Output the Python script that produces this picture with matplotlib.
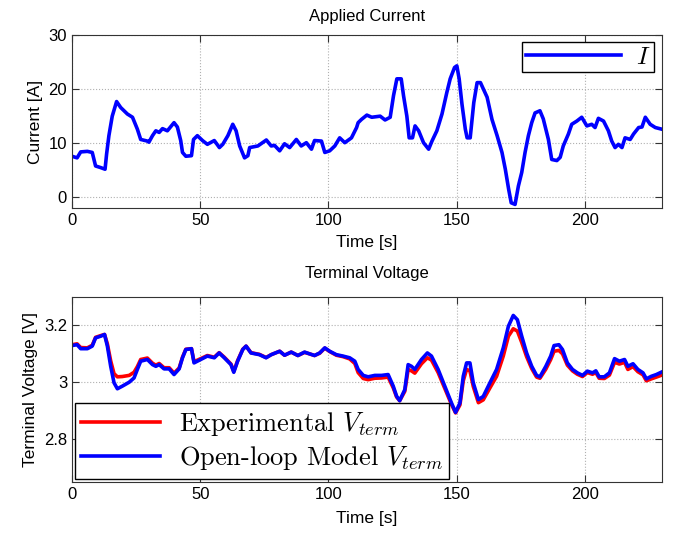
import matplotlib
matplotlib.use("Agg")
import matplotlib.pyplot as plt
import numpy as np

# applied current
t_cur = [0, 2, 3.4, 6, 7.9, 9.2, 11.2, 12.9, 13.5, 14.4, 15.7, 17.4, 19, 21.6, 23.6,
         25.5, 26.8, 29.4, 30, 31.4, 32.7, 34, 35.3, 37.2, 39.8, 41.1, 42.4, 43.1, 44.4,
         46.6, 47.4, 48.9, 50.9, 52.8, 55.5, 57.5, 58.8, 60.8, 62.7, 64, 65.4, 67.3, 68.6,
         69.3, 72.5, 75.8, 77.7, 79, 81, 82.9, 84.9, 87.5, 89.4, 91.4, 93.4, 94.6, 97.3,
         98.6, 100.5, 102.5, 104.4, 106.4, 109, 111, 111.6, 112.9, 115, 116.9, 120.2,
         122.1, 124.1, 125.4, 126.7, 128.4, 129.3, 130.6, 131.5, 132.8, 133.8, 135.2,
         137.1, 139.1, 140.4, 142.3, 144.3, 146.2, 147.5, 149.2, 150.1, 151, 152.1, 153.4,
         154.1, 155.3, 156.7, 158, 159.3, 161.9, 163.8, 165.8, 167.7, 169, 170.3, 171.3,
         172.8, 174.1, 175.4, 176.7, 178, 179.3, 180.6, 182.5, 183.8, 185.8, 187.1, 189.1,
         190.4, 191.6, 193.6, 194.9, 196.9, 198.8, 200.8, 202.7, 204, 205.3, 207.3, 209.2,
         210.5, 211.8, 213.1, 214.5, 215.7, 217.7, 219, 221, 222.3, 223.6, 225.5, 227.5, 230]
current = [7.6, 7.3, 8.4, 8.5, 8.3, 5.8, 5.5, 5.2, 8, 11.4, 15, 17.7, 16.6, 15.4, 14.8,
           12.6, 10.7, 10.4, 10.2, 11.4, 12.3, 12, 12.7, 12.3, 13.8, 13, 10.5, 8.3, 7.6,
           7.7, 10.7, 11.4, 10.5, 9.8, 10.5, 9.2, 9.8, 11.4, 13.5, 12.3, 9.5, 7.3, 7.7,
           9.2, 9.5, 10.6, 9.5, 9.6, 8.6, 9.9, 9.2, 10.7, 9.5, 10.1, 8.9, 10.5, 10.4,
           8.3, 8.6, 9.5, 11, 10.1, 11, 12.9, 13.8, 14.4, 15.2, 14.8, 15,
           14.3, 14.8, 18.8, 21.9, 21.9, 18.8, 15, 11, 11, 13.2, 12.3,
           10.1, 8.9, 10.4, 12.3, 15.4, 19.4, 21.9, 24, 24.3, 21.9, 17.2, 12.6,
           11, 11, 17.5, 21.2, 21.2, 18.5, 14.4, 11.4, 8.3, 5.2, 1.5, -1,
           -1.3, 2.1, 4.6, 8.3, 11.4, 13.8, 15.6, 16, 14.5, 10.7, 7, 6.8,
           7.4, 9.5, 11.7, 13.5, 14.1, 14.8, 13.2, 13.5, 12.9, 14.6, 14.1, 12.3,
           10.4, 9.2, 9.8, 9.2, 11, 10.7, 11.7, 12.9, 13, 14.8, 13.5, 12.9, 12.6]

# terminal voltage, model (blue) and experiment (red)
t_volt = [0, 2, 3.4, 6, 7.9, 9.2, 11.2, 12.7, 13.8, 15.1, 16.4, 17.7, 19.6, 22.3, 24.2,
          25.5, 26.8, 29.4, 31.4, 32.7, 34, 35.9, 37.9, 39.8, 41.8, 43.1, 44.4, 46.6,
          47.6, 50.2, 52.8, 55.5, 57.4, 59.4, 62, 63.1, 64.6, 66.6, 67.9, 69.8, 73.1,
          75.7, 77.7, 81, 82.9, 85.5, 88.1, 90.7, 92.6, 94.6, 96.6, 98.6, 100.5, 103.1,
          105.7, 108.3, 110.3, 111.6, 113.6, 115.5, 118.1, 120.7, 123.3, 125.3, 126.6,
          127.8, 129.8, 131.1, 132.4, 133.7, 136.3, 138.6, 140.2, 142.8, 145.4, 148,
          149.6, 151.3, 152.6, 153.9, 155.2, 156.5, 158.5, 160.4, 163, 165.6, 168.2,
          170.2, 172.1, 173.7, 175.4, 177.3, 179.3, 181.2, 182.5, 184.8, 186.7, 188,
          189.9, 191.3, 193.2, 195.2, 197.1, 199.1, 201, 203, 204.3, 205.6, 207.6, 209.6,
          211.6, 213.5, 215.5, 216.8, 218.8, 220.7, 222.7, 224, 226, 227.9, 230]
v_model = [3.129, 3.132, 3.118, 3.118, 3.127, 3.156, 3.162, 3.168, 3.127, 3.056, 2.998,
           2.977, 2.986, 3.0, 3.015, 3.045, 3.074, 3.08, 3.062, 3.056, 3.062, 3.047,
           3.047, 3.027, 3.047, 3.086, 3.115, 3.118, 3.068, 3.08, 3.092, 3.086, 3.103,
           3.086, 3.062, 3.035, 3.074, 3.115, 3.127, 3.103, 3.097, 3.086, 3.097, 3.109,
           3.095, 3.106, 3.094, 3.106, 3.1, 3.094, 3.103, 3.121, 3.109, 3.097, 3.092,
           3.086, 3.074, 3.045, 3.024, 3.019, 3.024, 3.024, 3.027, 2.986, 2.951, 2.935,
           2.974, 3.062, 3.056, 3.045, 3.08, 3.103, 3.092, 3.045, 2.986, 2.927, 2.894,
           2.927, 3.021, 3.068, 3.068, 2.998, 2.939, 2.95, 2.998, 3.045, 3.121, 3.197,
           3.235, 3.22, 3.162, 3.103, 3.056, 3.024, 3.019, 3.056, 3.092, 3.129, 3.132,
           3.115, 3.068, 3.045, 3.033, 3.024, 3.039, 3.033, 3.04, 3.019, 3.019, 3.033,
           3.083, 3.074, 3.08, 3.056, 3.065, 3.045, 3.033, 3.012, 3.021, 3.027, 3.036]
v_exp = [3.132, 3.135, 3.122, 3.121, 3.13, 3.158, 3.164, 3.168, 3.135, 3.075, 3.03,
         3.019, 3.02, 3.024, 3.035, 3.055, 3.08, 3.085, 3.067, 3.06, 3.066, 3.051,
         3.051, 3.032, 3.05, 3.088, 3.116, 3.118, 3.072, 3.083, 3.094, 3.088, 3.104,
         3.088, 3.064, 3.038, 3.076, 3.116, 3.127, 3.104, 3.098, 3.087, 3.097, 3.109,
         3.095, 3.106, 3.094, 3.105, 3.1, 3.094, 3.102, 3.12, 3.108, 3.095, 3.09,
         3.082, 3.066, 3.034, 3.013, 3.009, 3.014, 3.015, 3.018, 2.98, 2.948, 2.935,
         2.968, 3.045, 3.04, 3.032, 3.065, 3.086, 3.078, 3.034, 2.978, 2.922, 2.892,
         2.92, 3.005, 3.045, 3.04, 2.985, 2.928, 2.938, 2.98, 3.021, 3.092, 3.162,
         3.188, 3.18, 3.14, 3.09, 3.048, 3.018, 3.014, 3.046, 3.08, 3.109, 3.112,
         3.1, 3.06, 3.04, 3.028, 3.02, 3.034, 3.028, 3.034, 3.014, 3.013, 3.025,
         3.07, 3.064, 3.07, 3.045, 3.055, 3.037, 3.026, 3.005, 3.012, 3.018, 3.025]

plt.rcParams['font.family'] = 'Liberation Sans'
plt.rcParams['mathtext.fontset'] = 'cm'

fig = plt.figure(figsize=(6.81, 5.38), dpi=100)
ax1 = fig.add_axes([0.1057, 0.613, 0.866, 0.322])
ax2 = fig.add_axes([0.1057, 0.1047, 0.866, 0.3433])

for ax in (ax1, ax2):
    ax.grid(True, linestyle=':', color='#b0b0b0', linewidth=0.8)
    ax.tick_params(direction='in', top=True, right=True, labelsize=12, length=5,
                   color='#333333')
    for s in ax.spines.values():
        s.set_color('#333333')
    ax.set_xlim(0, 230)
    ax.set_xticks([0, 50, 100, 150, 200])

ax1.plot(t_cur, current, color='#0000ff', lw=2.6, label='$I$')
ax1.set_ylim(-2, 30)
ax1.set_yticks([0, 10, 20, 30])
ax1.set_xlabel('Time [s]', fontsize=12.5, labelpad=5)
ax1.set_ylabel('Current [A]', fontsize=12.5)
ax1.set_title('Applied Current', fontsize=12, pad=10)
ax1.legend(loc='upper right', prop={'family': 'cmr10', 'size': 18}, handlelength=3.8,
           fancybox=False, edgecolor='black', framealpha=1, borderpad=0.15,
           borderaxespad=0.3, handletextpad=0.6)

ax2.plot(t_volt, v_exp, color='#ff0000', lw=2.6, label='Experimental $V_{term}$')
ax2.plot(t_volt, v_model, color='#0000ff', lw=2.6, label='Open-loop Model $V_{term}$')
ax2.set_ylim(2.65, 3.3)
ax2.set_yticks([2.8, 3.0, 3.2])
ax2.set_yticklabels(['2.8', '3', '3.2'])
ax2.set_xlabel('Time [s]', fontsize=12.5, labelpad=7)
ax2.set_ylabel('Terminal Voltage [V]', fontsize=12.5)
ax2.set_title('Terminal Voltage', fontsize=12, pad=14)
ax2.legend(loc='lower left', prop={'family': 'cmr10', 'size': 19}, handlelength=3.0,
           fancybox=False, edgecolor='black', framealpha=1, borderpad=0.25,
           borderaxespad=0.1, labelspacing=0.25, handletextpad=0.7)

fig.savefig('out.png', dpi=100)
